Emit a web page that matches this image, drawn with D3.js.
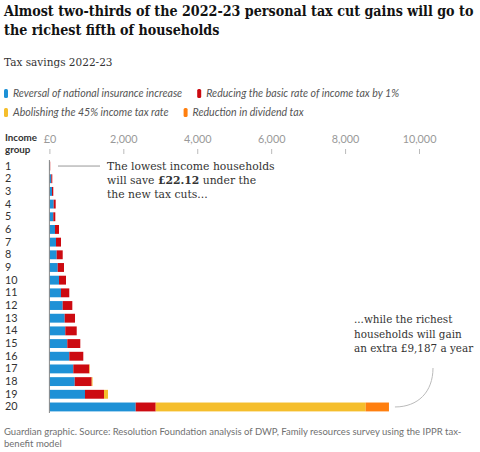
<!DOCTYPE html>
<html>
<head>
<meta charset="utf-8">
<script src="https://cdn.jsdelivr.net/npm/d3@7"></script>
<style>
  html, body { margin: 0; padding: 0; background: #fff; }
  svg { display: block; }
</style>
</head>
<body>
<svg id="chart" width="480" height="452"></svg>
<script>
// ---- data ----
var groups = d3.range(1, 21).map(String);
// Reversal of national insurance increase
var niValues = [12, 51, 70, 116, 105, 151, 179, 197, 225, 260, 314, 360, 414, 430, 484, 538, 647, 685, 963, 2335];
// Reducing the basic rate of income tax by 1%
var basicValues = [10, 27, 35, 54, 55, 109, 135, 163, 170, 189, 224, 260, 279, 309, 352, 379, 433, 460, 514, 541];
// Abolishing the 45% income tax rate
var additionalValues = [0, 0, 0, 0, 0, 0, 0, 0, 0, 0, 0, 0, 0, 0, 0, 0, 14, 22, 108, 5682];
// Reduction in dividend tax
var dividendValues = [0, 0, 0, 0, 0, 0, 0, 0, 0, 0, 0, 0, 0, 0, 0, 0, 0, 0, 0, 629];

var seriesKeys = ['ni', 'basic', 'additional', 'dividend'];
var seriesNames = ['Reversal of national insurance increase', 'Reducing the basic rate of income tax by 1%',
  'Abolishing the 45% income tax rate', 'Reduction in dividend tax'];
var seriesColors = ['#1e91d6', '#cc0a11', '#f5be2c', '#ff7f0f'];
var xTicks = [0, 2000, 4000, 6000, 8000, 10000];

var rows = groups.map(function (g, i) {
  return { group: g, ni: niValues[i], basic: basicValues[i], additional: additionalValues[i], dividend: dividendValues[i] };
});

var svg = d3.select('#chart');
var serif = '"DejaVu Serif", Georgia, serif';
var sans = 'Lato, "Open Sans", sans-serif';

// ---- title: big font, narrowed with a horizontal scale so line 1 is 470px ----
var title = svg.append('g').attr('font-family', serif).attr('font-weight', 'bold')
  .attr('font-size', 15.5).attr('fill', '#121212');
var t1 = title.append('text').attr('x', 0).attr('y', 16)
  .text('Almost two-thirds of the 2022-23 personal tax cut gains will go to');
title.append('text').attr('x', 0).attr('y', 35)
  .text('the richest fifth of households');
var squeeze = 470 / t1.node().getComputedTextLength();
title.attr('transform', 'translate(4,0) scale(' + squeeze + ',1)');

svg.append('text').attr('x', 4).attr('y', 66)
  .attr('font-family', serif).attr('font-size', 10.5).attr('fill', '#333')
  .text('Tax savings 2022-23');

// ---- legend ----
var legendRows = [[0, 1], [2, 3]];
legendRows.forEach(function (row, r) {
  var x = 4, y = 97 + r * 19;
  row.forEach(function (k) {
    svg.append('rect').attr('x', x).attr('y', y - 8).attr('width', 4).attr('height', 9).attr('rx', 1.5)
      .attr('fill', seriesColors[k]);
    var txt = svg.append('text').attr('x', x + 9).attr('y', y)
      .attr('font-family', sans).attr('font-style', 'italic').attr('font-size', 10.6).attr('fill', '#555')
      .text(seriesNames[k]);
    x += 9 + txt.node().getComputedTextLength() + 15;
  });
});

// ---- scales ----
var x = d3.scaleLinear().domain([0, 10000]).range([49.4, 419]);
var y = d3.scaleBand().domain(groups).range([159.7, 413.3]).paddingInner(0.3).paddingOuter(0.15);

var stack = d3.stack().keys(seriesKeys);
var stacked = stack(rows);

// axis header
svg.append('text').attr('x', 5).attr('y', 141).attr('font-family', sans).attr('font-weight', 'bold')
  .attr('font-size', 9.8).attr('fill', '#333').text('Income');
svg.append('text').attr('x', 5).attr('y', 153).attr('font-family', sans).attr('font-weight', 'bold')
  .attr('font-size', 9.8).attr('fill', '#333').text('group');

// x axis on top
var xAxis = d3.axisTop(x).tickValues(xTicks).tickSize(5).tickPadding(6)
  .tickFormat(function (d) { return d === 0 ? '£0' : d3.format(',')(d); });
var gx = svg.append('g').attr('transform', 'translate(0,154)').call(xAxis);
gx.select('.domain').remove();
gx.selectAll('.tick line').attr('stroke', '#bbb');
gx.selectAll('.tick text').attr('font-family', sans).attr('font-size', 10.8).attr('fill', '#999');

// y labels
var yAxis = d3.axisLeft(y).tickSize(0).tickPadding(0);
var gy = svg.append('g').attr('transform', 'translate(5,0)').call(yAxis);
gy.select('.domain').remove();
gy.selectAll('.tick text').attr('text-anchor', 'start').attr('font-family', sans)
  .attr('font-size', 10.8).attr('fill', '#333');

// bars
svg.append('g').selectAll('g').data(stacked).join('g')
  .attr('fill', function (d, i) { return seriesColors[i]; })
  .selectAll('rect').data(function (d) { return d; }).join('rect')
  .attr('x', function (d) { return x(d[0]); })
  .attr('y', function (d) { return y(d.data.group); })
  .attr('width', function (d) { return Math.max(0, x(d[1]) - x(d[0])); })
  .attr('height', y.bandwidth());

// baseline
svg.append('line').attr('x1', x(0)).attr('x2', x(0)).attr('y1', 160).attr('y2', 413)
  .attr('stroke', '#888').attr('stroke-width', 1);

// ---- annotations ----
var first = rows[0], last = rows[rows.length - 1];
var firstY = y(first.group) + y.bandwidth() / 2;
svg.append('line').attr('x1', 58).attr('x2', 100).attr('y1', firstY).attr('y2', firstY)
  .attr('stroke', '#999').attr('stroke-width', 1);
var a1 = svg.append('text').attr('font-family', serif).attr('font-size', 10.8).attr('fill', '#333');
a1.append('tspan').attr('x', 107).attr('y', 169.5).text('The lowest income households');
var a1b = a1.append('tspan').attr('x', 107).attr('y', 183.5);
a1b.append('tspan').text('will save ');
a1b.append('tspan').attr('font-weight', 'bold').text('£22.12');
a1b.append('tspan').text(' under the');
a1.append('tspan').attr('x', 107).attr('y', 197.5).text('the new tax cuts...');

var a2 = svg.append('text').attr('font-family', serif).attr('font-size', 10.4).attr('fill', '#333');
a2.append('tspan').attr('x', 354).attr('y', 323).text('...while the richest');
a2.append('tspan').attr('x', 354).attr('y', 337.5).text('households will gain');
a2.append('tspan').attr('x', 354).attr('y', 352).text('an extra £9,187 a year');

var lastY = y(last.group) + y.bandwidth() / 2;
var lastEnd = x(last.ni + last.basic + last.additional + last.dividend) + 6;
svg.append('path')
  .attr('d', 'M433,368 C433,392 418,' + lastY + ' ' + lastEnd + ',' + lastY)
  .attr('fill', 'none').attr('stroke', '#bbb').attr('stroke-width', 1);

// ---- footer ----
var foot = svg.append('text').attr('font-family', sans).attr('font-size', 9.5).attr('fill', '#707070');
foot.append('tspan').attr('x', 4).attr('y', 435)
  .text('Guardian graphic. Source: Resolution Foundation analysis of DWP, Family resources survey using the IPPR tax-');
foot.append('tspan').attr('x', 4).attr('y', 446.5).text('benefit model');
</script>
</body>
</html>
